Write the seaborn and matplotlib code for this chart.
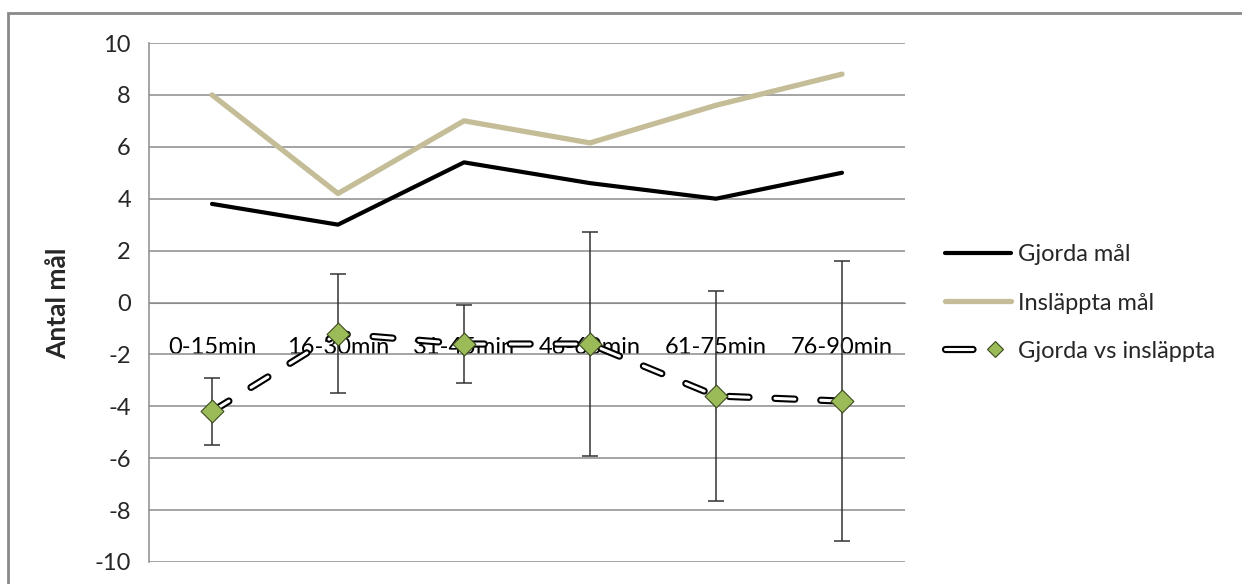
import numpy as np
import pandas as pd
import matplotlib.pyplot as plt
import matplotlib.patheffects as pe
from matplotlib.lines import Line2D
from matplotlib.patches import Rectangle
from matplotlib.legend_handler import HandlerTuple
import seaborn as sns

perioder = ['0-15min', '16-30min', '31-45min', '46-60min', '61-75min', '76-90min']
gjorda = [3.8, 3.0, 5.4, 4.6, 4.0, 5.0]
inslappta = [8.0, 4.2, 7.0, 6.15, 7.6, 8.8]
skillnad = [-4.2, -1.2, -1.6, -1.6, -3.6, -3.8]
fel = [1.3, 2.3, 1.5, 4.3, 4.05, 5.4]

df = pd.DataFrame({'Period': perioder, 'Gjorda': gjorda, 'Inslappta': inslappta,
                   'Diff': skillnad, 'Fel': fel})

sns.set_style('white')
plt.rcParams['font.family'] = ['Lato', 'DejaVu Sans']
plt.rcParams['font.size'] = 17
plt.rcParams['axes.unicode_minus'] = False

grid_col = '#8c8c8c'
fig = plt.figure(figsize=(12.42, 5.84), dpi=100)
ax = fig.add_axes([149 / 1242, 1 - 562 / 584, (905 - 149) / 1242, (562 - 43) / 584])

# ram runt diagrammet
fig.patches.append(Rectangle((8 / 1242, -0.05), 1.1, 1 - 13 / 584 + 0.05, transform=fig.transFigure,
                             fill=False, edgecolor='#8a8a8a', linewidth=2, zorder=0))

ax.errorbar(df['Period'], df['Diff'], yerr=df['Fel'], fmt='none', ecolor='#333333',
            elinewidth=1.1, capsize=6, capthick=1.1, zorder=3)

sns.lineplot(data=df, x='Period', y='Gjorda', color='black', linewidth=3, sort=False, ax=ax, zorder=4)
sns.lineplot(data=df, x='Period', y='Inslappta', color='#c4bd97', linewidth=3.8, sort=False, ax=ax, zorder=4)
sns.lineplot(data=df, x='Period', y='Diff', color='white', linewidth=2.2, sort=False, ax=ax,
             linestyle=(0, (6.5, 8.5)), dash_capstyle='round', zorder=5,
             path_effects=[pe.Stroke(linewidth=5.2, foreground='black'), pe.Normal()])
sns.scatterplot(data=df, x='Period', y='Diff', marker='D', s=135, color='#9bbb59',
                edgecolor='#3a4a20', linewidth=0.8, ax=ax, zorder=6)

ax.set_xlim(-0.5, 5.5)
ax.set_ylim(-10, 10)
ax.set_yticks(np.arange(-10, 11, 2))
ax.grid(axis='y', color=grid_col, linewidth=1.1)
ax.set_axisbelow(True)

ax.set_xticks(range(len(perioder)))
ax.set_xticklabels(perioder)
ax.set_xticks(np.arange(0.5, 6, 1), minor=True)
ax.tick_params(axis='x', which='major', length=0, pad=25, colors='black')
ax.tick_params(axis='x', which='minor', length=6, width=1, color=grid_col, direction='out')
ax.tick_params(axis='y', length=6, width=1, color=grid_col, direction='out', pad=7)

ax.spines['bottom'].set_position(('data', 0))
ax.spines['bottom'].set_color(grid_col)
ax.spines['left'].set_color(grid_col)
ax.spines['left'].set_linewidth(1.1)
ax.spines['top'].set_visible(False)
ax.spines['right'].set_visible(False)

ax.set_xlabel('')
ax.set_ylabel('')
fig.text(58 / 1242, 1 - 303 / 584, 'Antal mål', rotation=90, fontweight='bold', fontsize=19,
         ha='center', va='center')

h1 = Line2D([], [], color='black', linewidth=3)
h2 = Line2D([], [], color='#c4bd97', linewidth=3.8, solid_capstyle='round')
h3a = Line2D([], [], color='white', linewidth=2.2, linestyle=(0, (9, 7)), dash_capstyle='round',
             path_effects=[pe.Stroke(linewidth=5.2, foreground='black'), pe.Normal()])
h3b = Line2D([], [], linestyle='none', marker='D', markersize=8, markerfacecolor='#9bbb59',
             markeredgecolor='#3a4a20', markeredgewidth=0.8)
fig.legend([h1, h2, (h3a, h3b)], ['Gjorda mål', 'Insläppta mål', 'Gjorda vs insläppta'],
           handler_map={tuple: HandlerTuple(ndivide=None)},
           loc='center left', bbox_to_anchor=(945 / 1242, 1 - 303 / 584), frameon=False,
           handlelength=2.8, handletextpad=0.3, labelspacing=1.15, borderpad=0, borderaxespad=0)

plt.savefig('out.png', dpi=100)
